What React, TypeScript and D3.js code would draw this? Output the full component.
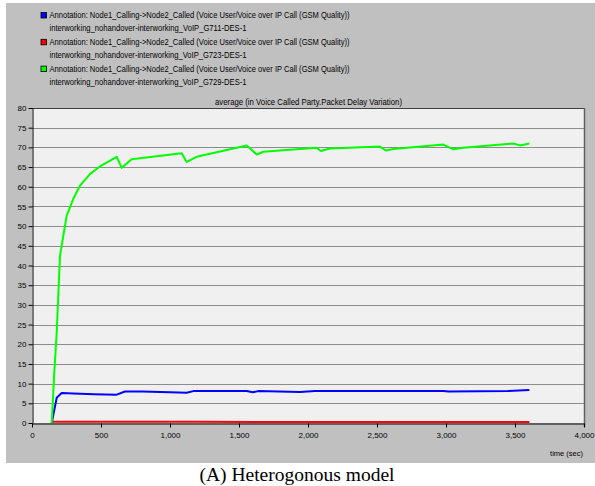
import React, { useRef, useEffect } from 'react';
import * as d3 from 'd3';

const legendNames = [
  'interworking_nohandover-interworking_VoIP_G711-DES-1',
  'interworking_nohandover-interworking_VoIP_G723-DES-1',
  'interworking_nohandover-interworking_VoIP_G729-DES-1',
];
const annotation = 'Annotation:  Node1_Calling->Node2_Called (Voice User/Voice over IP Call (GSM Quality))';
const seriesColors = ['#0000ff', '#ff0000', '#00ff00'];

const xTicks = [0, 500, 1000, 1500, 2000, 2500, 3000, 3500, 4000];
const yTicks = [0, 5, 10, 15, 20, 25, 30, 35, 40, 45, 50, 55, 60, 65, 70, 75, 80];

// G711 (blue)
const g711T = [143, 179, 215, 300, 450, 614, 674, 800, 1000, 1121, 1169, 1400, 1556, 1600, 1640, 1942, 2050, 2500, 2980, 3020, 3450, 3604];
const g711V = [0, 6.4, 7.6, 7.5, 7.3, 7.2, 8.0, 8.0, 7.8, 7.7, 8.1, 8.1, 8.1, 7.8, 8.1, 7.9, 8.1, 8.1, 8.1, 8.0, 8.1, 8.4];
// G723 (red)
const g723T = [143, 600, 1200, 2000, 3000, 3604];
const g723V = [0.3, 0.3, 0.3, 0.25, 0.25, 0.25];
// G729 (green)
const g729T = [143, 160, 179, 203, 251, 300, 348, 420, 493, 614, 650, 722, 1085, 1121, 1193, 1556, 1628, 1676, 1942, 2063, 2092, 2159, 2522, 2565, 2618, 2981, 3053, 3125, 3488, 3536, 3604];
const g729V = [0, 12, 23, 42.5, 52.6, 57, 60.3, 63.2, 65.2, 67.6, 64.8, 67.0, 68.5, 66.3, 67.6, 70.5, 68.2, 68.9, 69.6, 69.9, 69.1, 69.7, 70.2, 69.2, 69.6, 70.7, 69.5, 69.9, 71.0, 70.5, 71.0];

const App = () => {
  const ref = useRef<SVGSVGElement>(null);

  useEffect(() => {
    const svg = d3.select(ref.current);
    svg.selectAll('*').remove();
    const font = 'Arial, "Liberation Sans", sans-serif';
    const fs = 8.5;

    svg.append('rect').attr('x', 6).attr('y', 3).attr('width', 589).attr('height', 460).attr('fill', '#c0c0c0');

    const left = 32, right = 584, top = 108, bottom = 423;
    const x = d3.scaleLinear().domain([0, 4000]).range([left, right]);
    const y = d3.scaleLinear().domain([0, 80]).range([bottom, top]);

    // legend
    legendNames.forEach((name, i) => {
      const yy = 18 + i * 26.8;
      svg.append('rect').attr('x', 41).attr('y', yy - 5.5).attr('width', 5.5).attr('height', 5.5)
        .attr('fill', seriesColors[i]).attr('stroke', '#000').attr('stroke-width', 0.8);
      svg.append('text').attr('x', 49.5).attr('y', yy).text(annotation)
        .attr('font-family', font).attr('font-size', fs).attr('fill', '#000')
        .attr('textLength', 300).attr('lengthAdjust', 'spacingAndGlyphs');
      svg.append('text').attr('x', 49.5).attr('y', yy + 13.4).text(name)
        .attr('font-family', font).attr('font-size', fs).attr('fill', '#000')
        .attr('textLength', 197).attr('lengthAdjust', 'spacingAndGlyphs');
    });

    svg.append('text').attr('x', 215).attr('y', 105)
      .attr('font-family', font).attr('font-size', fs)
      .attr('textLength', 187).attr('lengthAdjust', 'spacingAndGlyphs')
      .text('average (in Voice Called Party.Packet Delay Variation)');

    // plot area
    svg.append('rect').attr('x', left).attr('y', top).attr('width', right - left).attr('height', bottom - top).attr('fill', '#f0f0f0');

    const g = svg.append('g');
    g.selectAll('line.grid').data(yTicks.slice(1, -1)).enter().append('line')
      .attr('x1', left).attr('x2', right)
      .attr('y1', (d) => Math.round(y(d)) + 0.5).attr('y2', (d) => Math.round(y(d)) + 0.5)
      .attr('stroke', '#8c8c8c').attr('stroke-width', 1);

    // borders
    svg.append('line').attr('x1', left).attr('x2', right + 1).attr('y1', top + 0.5).attr('y2', top + 0.5).attr('stroke', '#404040');
    svg.append('line').attr('x1', right + 0.5).attr('x2', right + 0.5).attr('y1', top).attr('y2', bottom + 4).attr('stroke', '#606060').attr('stroke-width', 1.5);

    const yAxis = d3.axisLeft(y).tickValues(yTicks).tickSize(4).tickSizeOuter(0);
    const ya = svg.append('g').attr('transform', `translate(${left + 0.5},0)`).call(yAxis);
    ya.selectAll('text').attr('font-family', font).attr('font-size', 8).attr('fill', '#000').attr('dx', '1');
    ya.selectAll('line').attr('stroke', '#000');
    ya.select('path').attr('stroke', '#000');

    const xAxis = d3.axisBottom(x).tickValues(xTicks).tickSize(4).tickSizeOuter(0).tickFormat(d3.format(','));
    const xa = svg.append('g').attr('transform', `translate(0,${bottom + 0.5})`).call(xAxis);
    xa.selectAll('text').attr('font-family', font).attr('font-size', 8).attr('fill', '#000').attr('dy', '0.9em');
    xa.selectAll('line').attr('stroke', '#000');
    xa.select('path').attr('stroke', '#000');

    svg.append('text').attr('x', 583).attr('y', 456).attr('text-anchor', 'end')
      .attr('font-family', font).attr('font-size', 7.5).text('time (sec)');

    const line = d3.line<[number, number]>().x((d) => x(d[0])).y((d) => y(d[1]));
    const series = [d3.zip(g723T, g723V), d3.zip(g711T, g711V), d3.zip(g729T, g729V)];
    const cols = [seriesColors[1], seriesColors[0], seriesColors[2]];
    series.forEach((s, i) => {
      svg.append('path').datum(s as [number, number][]).attr('d', line)
        .attr('fill', 'none').attr('stroke', cols[i]).attr('stroke-width', 2).attr('stroke-linejoin', 'round');
    });

    svg.append('text').attr('x', 297).attr('y', 481).attr('text-anchor', 'middle')
      .attr('font-family', '"Times New Roman", "Liberation Serif", serif').attr('font-size', 19.5)
      .text('(A) Heterogonous model');
  }, []);

  return (
    <div style={{ position: 'absolute', left: 0, top: 0 }}>
      <svg ref={ref} width={595} height={486} style={{ display: 'block', background: '#fff' }}></svg>
    </div>
  );
};

export default App;
